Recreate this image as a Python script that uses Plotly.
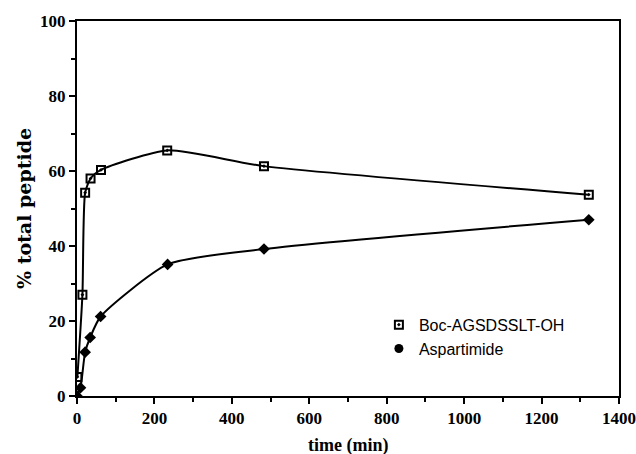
import plotly.graph_objects as go

boc_time = [1, 14, 21, 35, 62, 233, 483, 1322]
boc_pct = [5.1, 27.0, 54.2, 58.0, 60.3, 65.5, 61.3, 53.7]
asp_time = [0, 9, 21, 34, 61, 234, 483, 1322]
asp_pct = [0.0, 2.2, 11.7, 15.6, 21.2, 35.1, 39.2, 47.0]

boc_marker = dict(symbol="square-open-dot", size=8, color="black", line=dict(width=2, color="black"))
asp_marker = dict(symbol="diamond", size=9, color="black")

fig = go.Figure()
fig.add_trace(go.Scatter(
    x=boc_time, y=boc_pct, name="Boc-AGSDSSLT-OH", mode="lines+markers", showlegend=False,
    line=dict(color="black", width=2, shape="spline", smoothing=0.6),
    marker=boc_marker,
))
fig.add_trace(go.Scatter(
    x=asp_time, y=asp_pct, name="Aspartimide", mode="lines+markers", showlegend=False,
    line=dict(color="black", width=2, shape="spline", smoothing=0.6),
    marker=asp_marker,
))
# legend entries (marker only)
fig.add_trace(go.Scatter(x=[None], y=[None], name="Boc-AGSDSSLT-OH", mode="markers", marker=boc_marker))
fig.add_trace(go.Scatter(x=[None], y=[None], name="Aspartimide", mode="markers",
                         marker=dict(symbol="circle", size=9, color="black")))

serif = "Liberation Serif"
fig.update_layout(
    width=636, height=454,
    margin=dict(l=77, r=17, t=19, b=58),
    paper_bgcolor="white", plot_bgcolor="white",
    showlegend=True,
    legend=dict(x=0.557, y=0.158, xanchor="left", yanchor="middle",
                font=dict(family="Liberation Sans", size=16, color="black"),
                bgcolor="rgba(0,0,0,0)", itemwidth=30, tracegroupgap=0),
    xaxis=dict(range=[0, 1400], tickvals=[0, 200, 400, 600, 800, 1000, 1200, 1400],
               showgrid=False, zeroline=False, showline=True, linecolor="black", linewidth=2,
               mirror=True, ticks="outside", ticklen=6, tickwidth=2, tickcolor="black",
               minor=dict(dtick=100, ticks="outside", ticklen=4, tickwidth=1.5, tickcolor="black"),
               tickfont=dict(family=serif, size=17, color="black", weight="bold"),
               automargin=False),
    yaxis=dict(range=[0, 100], tickvals=[0, 20, 40, 60, 80, 100],
               showgrid=False, zeroline=False, showline=True, linecolor="black", linewidth=2,
               mirror=True, ticks="outside", ticklen=6, tickwidth=2, tickcolor="black",
               minor=dict(dtick=10, ticks="outside", ticklen=4, tickwidth=1.5, tickcolor="black"),
               tickfont=dict(family=serif, size=17, color="black", weight="bold"),
               title=dict(text="% total peptide", font=dict(family="DejaVu Serif", size=19, color="black", weight="bold"), standoff=3)),
    annotations=[dict(text="time (min)", xref="paper", yref="paper", x=0.5, y=0,
                      xanchor="center", yanchor="middle", yshift=-49, showarrow=False,
                      font=dict(family=serif, size=18, color="black", weight="bold"))],
)
fig.write_html("out.html", config={"displayModeBar": False},
               post_script="document.body.style.margin='0';")
